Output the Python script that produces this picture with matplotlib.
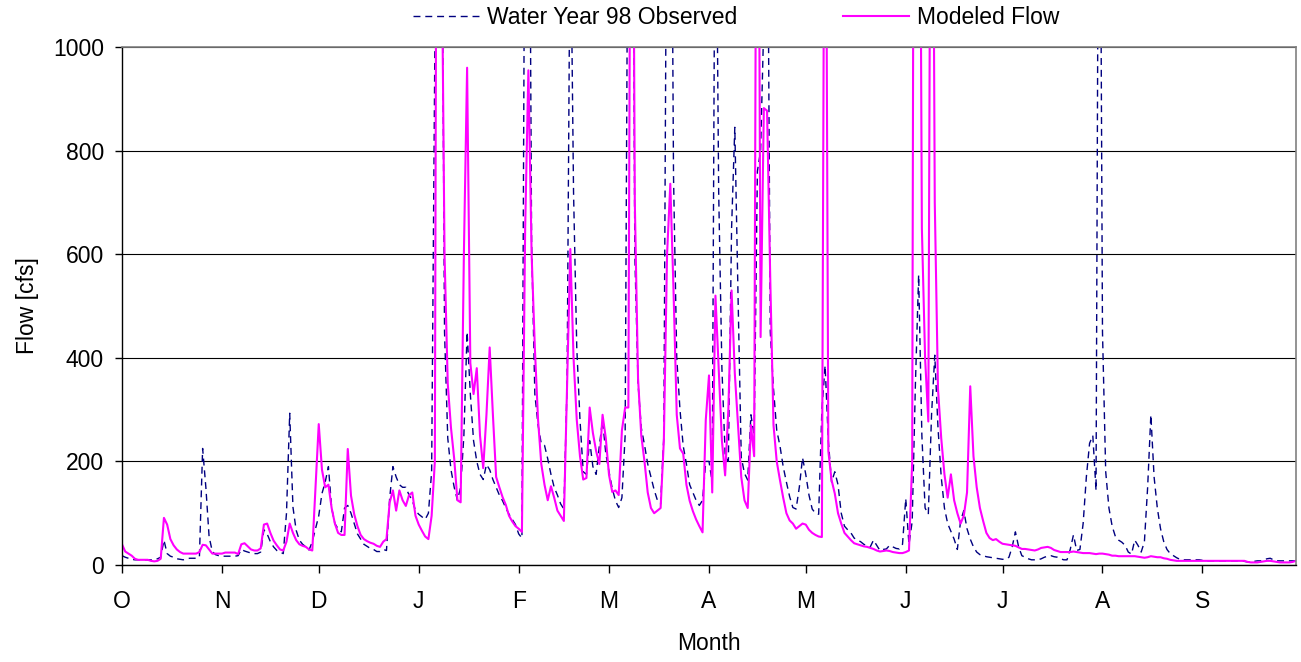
import numpy as np
import matplotlib.pyplot as plt

# Water year Oct 1997 - Sep 1998, daily flow in cfs
MONTH_LABELS = ["O", "N", "D", "J", "F", "M", "A", "M", "J", "J", "A", "S"]
MONTH_START = [0, 31, 61, 92, 123, 151, 182, 212, 243, 273, 304, 335]

observed = [
    # Oct
    18, 15, 13, 11, 10, 10, 10, 10, 10, 10, 10, 12, 15, 48, 22, 17, 15, 12, 11, 10,
    12, 13, 13, 13, 15, 225, 150, 55, 26, 20, 18,
    # Nov
    17, 17, 17, 17, 17, 18, 30, 27, 25, 23, 22, 22, 25, 68, 60, 45, 35, 28, 25, 22,
    100, 293, 112, 67, 48, 40, 35, 29, 45, 70,
    # Dec
    95, 138, 160, 190, 110, 80, 70, 64, 110, 115, 100, 80, 60, 50, 40, 36, 32, 30, 26, 26,
    30, 28, 130, 190, 170, 155, 150, 150, 135, 125, 105,
    # Jan
    98, 93, 88, 100, 180, 1000, 2500, 1500, 450, 245, 184, 150, 125, 150, 250, 450, 330, 240, 200, 175,
    165, 194, 184, 165, 150, 135, 124, 110, 98, 88, 78,
    # Feb
    60, 52, 1500, 1800, 620, 330, 270, 234, 231, 205, 175, 150, 135, 118, 108, 350, 1300, 720, 420, 280,
    180, 175, 240, 190, 175, 230, 280, 215,
    # Mar
    180, 148, 124, 111, 130, 250, 1500, 1900, 600, 350, 265, 232, 195, 170, 145, 125, 118, 250, 1500, 1800,
    750, 400, 300, 230, 195, 155, 140, 125, 115, 125, 200,
    # Apr
    200, 160, 1500, 720, 380, 215, 200, 650, 845, 520, 208, 177, 164, 290, 250, 760, 800, 1050, 1500, 450,
    340, 260, 230, 190, 160, 132, 111, 108, 150, 207,
    # May
    175, 135, 108, 100, 98, 300, 385, 240, 160, 180, 155, 100, 75, 68, 62, 52, 48, 45, 40, 37,
    35, 48, 38, 28, 30, 31, 38, 35, 32, 31, 40,
    # Jun
    128, 40, 84, 350, 560, 250, 110, 98, 290, 405, 265, 170, 110, 80, 65, 50, 30, 85, 105, 70,
    50, 35, 25, 20, 18, 16, 15, 14, 13, 12,
    # Jul
    11, 11, 15, 35, 64, 35, 18, 15, 12, 10, 10, 10, 12, 15, 17, 18, 16, 15, 12, 10,
    10, 30, 58, 28, 30, 80, 170, 235, 250, 144, 1800,
    # Aug
    450, 180, 110, 75, 55, 48, 44, 38, 25, 21, 48, 38, 25, 45, 150, 290, 170, 110, 70, 45,
    30, 22, 18, 14, 11, 10, 10, 10, 10, 10, 10,
    # Sep
    9, 8, 8, 8, 8, 8, 8, 8, 8, 8, 8, 8, 8, 7, 6, 6, 7, 8, 8, 10,
    12, 13, 10, 8, 8, 8, 8, 8, 8, 8,
]

modeled = [
    # Oct
    40, 26, 22, 18, 12, 10, 10, 10, 10, 8, 7, 8, 12, 91, 78, 50, 38, 30, 25, 22,
    22, 22, 22, 22, 25, 39, 38, 30, 22, 22, 22,
    # Nov
    22, 24, 24, 24, 24, 21, 40, 42, 36, 30, 28, 28, 32, 78, 80, 62, 47, 38, 30, 28,
    45, 80, 62, 48, 40, 37, 35, 30, 28, 150,
    # Dec
    272, 184, 150, 155, 110, 80, 62, 58, 58, 224, 134, 98, 75, 58, 50, 46, 43, 41, 37, 35,
    45, 50, 121, 144, 105, 144, 125, 114, 135, 140, 95,
    # Jan
    78, 66, 55, 50, 95, 200, 2600, 1300, 600, 350, 265, 205, 125, 121, 600, 960, 390, 330, 380, 250,
    187, 290, 420, 290, 170, 150, 131, 116, 95, 84, 75,
    # Feb
    70, 64, 650, 955, 600, 420, 280, 195, 155, 125, 152, 130, 105, 95, 85, 350, 610, 400, 280, 210,
    165, 168, 304, 255, 220, 195, 290, 245,
    # Mar
    174, 141, 144, 135, 260, 304, 304, 2000, 700, 360, 250, 200, 140, 110, 100, 105, 110, 240, 600, 736,
    530, 290, 225, 215, 155, 124, 104, 88, 75, 63, 280,
    # Apr
    366, 140, 520, 380, 240, 173, 300, 530, 370, 270, 170, 125, 110, 270, 210, 2000, 440, 882, 877, 550,
    270, 200, 164, 130, 100, 86, 80, 70, 75, 80,
    # May
    78, 68, 62, 58, 55, 54, 1800, 220, 164, 138, 100, 80, 62, 55, 48, 42, 40, 38, 36, 35,
    33, 31, 28, 26, 27, 28, 27, 25, 24, 23, 23,
    # Jun
    25, 28, 200, 3000, 2000, 650, 400, 277, 2000, 700, 340, 245, 175, 130, 175, 125, 100, 80, 95, 140,
    345, 210, 150, 110, 85, 62, 52, 48, 50, 45,
    # Jul
    41, 40, 39, 38, 37, 34, 31, 31, 30, 29, 28, 30, 33, 34, 35, 33, 29, 27, 25, 25,
    25, 25, 26, 25, 24, 23, 23, 23, 22, 21, 22,
    # Aug
    22, 21, 20, 18, 18, 17, 17, 17, 17, 17, 17, 16, 15, 14, 15, 17, 16, 15, 15, 13,
    12, 10, 9, 8, 8, 8, 8, 8, 8, 8, 8,
    # Sep
    8, 8, 8, 8, 8, 8, 8, 8, 8, 8, 8, 8, 8, 8, 6, 5, 5, 5, 6, 7,
    8, 8, 7, 6, 5, 5, 5, 5, 6, 8,
]

plt.rcParams["font.family"] = ["Liberation Sans", "DejaVu Sans"]
FS = 16.5

W, H = 1301, 662
fig = plt.figure(figsize=(W / 100, H / 100), dpi=100)
ax = fig.add_axes([122 / W, 1 - 565 / H, (1296 - 122) / W, (565 - 47) / H])

days = np.arange(len(observed))
ax.plot(days, observed, color="#000080", lw=1.0, ls=(0, (5, 3.5)),
        label="Water Year 98 Observed")
ax.plot(days, modeled, color="#FF00FF", lw=1.5, label="Modeled Flow")

ax.set_xlim(0, 364)
ax.set_ylim(0, 1000)
ax.set_yticks(range(0, 1001, 200))
ax.set_xticks(MONTH_START)
ax.set_xticklabels(MONTH_LABELS)
ax.yaxis.grid(True, color="black", lw=0.8)
ax.set_axisbelow(True)

for side in ("top", "right"):
    ax.spines[side].set_color("#808080")
    ax.spines[side].set_linewidth(1.2)
for side in ("left", "bottom"):
    ax.spines[side].set_color("black")
    ax.spines[side].set_linewidth(1.0)

ax.tick_params(axis="x", direction="out", length=6, width=1, pad=12, labelsize=FS)
ax.tick_params(axis="y", direction="out", length=5, width=1, pad=8, labelsize=FS)

ax.set_xlabel("Month", fontsize=FS, labelpad=14)
ax.set_ylabel("Flow [cfs]", fontsize=FS, labelpad=10)

fig.legend(loc="center", bbox_to_anchor=(0.566, 0.973), ncol=2, frameon=False,
           fontsize=FS, handlelength=2.9, handletextpad=0.35, columnspacing=4.6)

fig.savefig("out.png", dpi=100)
